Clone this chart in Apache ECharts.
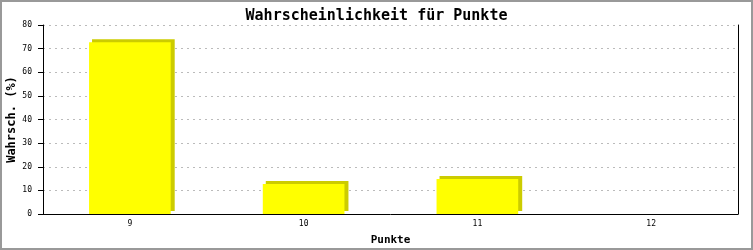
<!DOCTYPE html>
<html>
<head>
<meta charset="utf-8">
<script src="https://cdn.jsdelivr.net/npm/echarts@6/dist/echarts.min.js"></script>
<style>
html,body{margin:0;padding:0;background:#fff;}
#chart{width:753px;height:250px;}
</style>
</head>
<body>
<div id="chart"></div>
<script>
const titleText = 'Wahrscheinlichkeit für Punkte';
const categories = ['9', '10', '11', '12'];
const values = [72.7, 12.7, 14.8, 0];
const yTicks = { min: 0, max: 80, interval: 10 };
const xName = 'Punkte';
const yName = 'Wahrsch. (%)';

const mono = 'DejaVu Sans Mono';
const chart = echarts.init(document.getElementById('chart'), null, { renderer: 'canvas' });

chart.setOption({
  animation: false,
  backgroundColor: '#fff',
  title: {
    text: titleText,
    left: 'center',
    top: 4,
    textStyle: { fontFamily: mono, fontSize: 15, fontWeight: 'bold', color: '#000' }
  },
  graphic: [{
    type: 'rect',
    shape: { x: 1, y: 1, width: 751, height: 248 },
    style: { fill: 'none', stroke: '#999', lineWidth: 2 },
    silent: true
  }],
  grid: { left: 43, right: 15, top: 25, bottom: 36, containLabel: false, outerBoundsMode: 'none' },
  xAxis: {
    type: 'category',
    data: categories,
    name: xName,
    nameLocation: 'middle',
    nameGap: 21,
    nameMoveOverlap: false,
    nameTextStyle: { fontFamily: mono, fontSize: 11, fontWeight: 'bold', color: '#000' },
    axisLine: { lineStyle: { color: '#000', width: 1 } },
    axisTick: { show: false },
    axisLabel: { fontFamily: mono, fontSize: 8, color: '#000', margin: 6 },
    splitLine: { show: false }
  },
  yAxis: [{
    type: 'value',
    min: yTicks.min,
    max: yTicks.max,
    interval: yTicks.interval,
    name: yName,
    nameLocation: 'middle',
    nameGap: 25,
    nameRotate: 90,
    nameMoveOverlap: false,
    nameTextStyle: { fontFamily: mono, fontSize: 12, fontWeight: 'bold', color: '#000' },
    axisLine: { show: true, lineStyle: { color: '#000', width: 1 } },
    axisTick: { show: true, length: 5, lineStyle: { color: '#000' } },
    axisLabel: { fontFamily: mono, fontSize: 8, color: '#000', margin: 11 },
    splitLine: { show: true, lineStyle: { color: '#bbb', type: [2, 4], width: 1 } }
  }, {
    type: 'value',
    position: 'right',
    min: yTicks.min,
    max: yTicks.max,
    interval: yTicks.interval,
    axisLine: { show: true, lineStyle: { color: '#000', width: 1 } },
    axisTick: { show: false },
    axisLabel: { show: false },
    splitLine: { show: false }
  }],
  series: [{
    type: 'custom',
    data: values.map((v, i) => [i, v]),
    encode: { x: 0, y: 1 },
    renderItem: function (params, api) {
      const top = api.coord([api.value(0), api.value(1)]);
      const base = api.coord([api.value(0), 0]);
      const w = api.size([1, 0])[0] * 0.47;
      const h = base[1] - top[1];
      if (h <= 0.5) return null;
      const x = top[0] - w / 2;
      return {
        type: 'group',
        children: [{
          type: 'rect',
          shape: { x: x + 3, y: top[1] - 3, width: w + 1, height: h },
          style: { fill: '#cccc00' }
        }, {
          type: 'rect',
          shape: { x: x, y: top[1], width: w, height: h },
          style: { fill: '#ffff00' }
        }]
      };
    }
  }]
});
</script>
</body>
</html>
